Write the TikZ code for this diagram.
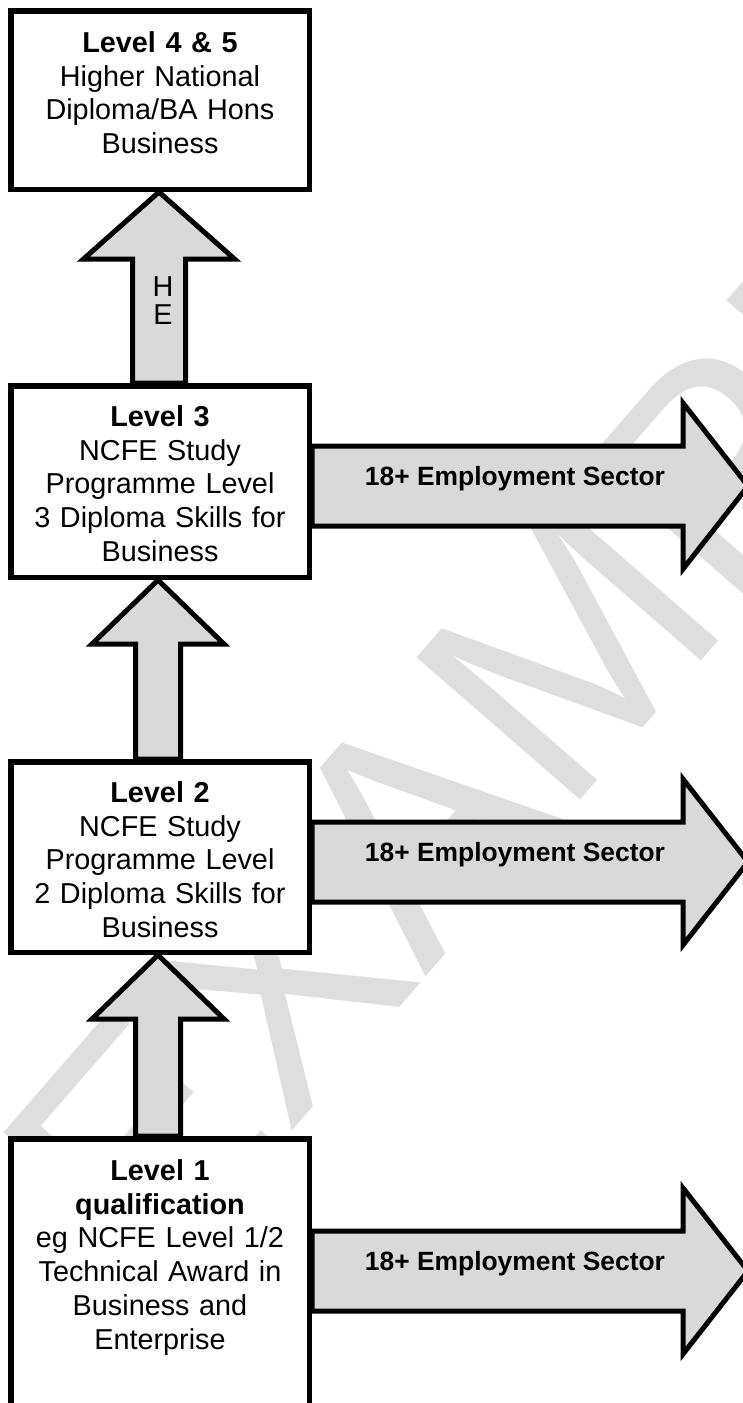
\documentclass[tikz,border=0pt]{standalone}
\usepackage{fontspec}
\setmainfont{Liberation Sans}
\usetikzlibrary{calc}
\pgfdeclarelayer{wm}
\pgfdeclarelayer{arrows}
\pgfsetlayers{wm,arrows,main}
\definecolor{arrowgrey}{HTML}{D9D9D9}
\definecolor{wmgrey}{HTML}{DEDEDE}
\newcommand{\boxfont}{\fontsize{28.8}{33.8}\selectfont}
\newcommand{\labfont}{\bfseries\fontsize{26.4}{30}\selectfont}

\begin{document}
\begin{tikzpicture}[x=1pt,y=-1pt,
  every node/.style={inner sep=0pt},
  levelbox/.style={draw,line width=5.5pt,fill=white,text width=290pt,align=center,
    minimum width=298.5pt,text height=21pt,font=\boxfont},
  uparrow/.style n args={3}{draw,line width=5pt,fill=arrowgrey,
    to path={($(\tikztostart)+(-#1,0)$) -- ($(\tikztotarget)+(-#1,#3)$)
      -- ($(\tikztotarget)+(-#2,#3)$) -- (\tikztotarget)
      -- ($(\tikztotarget)+(#2,#3)$) -- ($(\tikztotarget)+(#1,#3)$)
      -- ($(\tikztostart)+(#1,0)$) -- cycle}},
  sidearrow/.style={draw,line width=5pt,fill=arrowgrey,
    to path={($(\tikztostart)+(0,-40)$) -- ($(\tikztotarget)+(-65,-40)$)
      -- ($(\tikztotarget)+(-65,-83)$) -- (\tikztotarget)
      -- ($(\tikztotarget)+(-65,83)$) -- ($(\tikztotarget)+(-65,40)$)
      -- ($(\tikztostart)+(0,40)$) -- cycle}},
  sidelabel/.style={anchor=base,font=\labfont}
]
\useasboundingbox (0,0) rectangle (743,1403);
\clip (0,0) rectangle (743,1403);

% levels
\node[levelbox,minimum height=178.5pt,text depth=116.4pt] (l4) at (160,100)
  {\textbf{Level 4 \& 5}\\Higher National\\Diploma/BA Hons\\Business};
\node[levelbox,minimum height=191.5pt,text depth=131.4pt] (l3) at (160,481.5)
  {\textbf{Level 3}\\NCFE Study\\Programme Level\\3 Diploma Skills for\\Business};
\node[levelbox,minimum height=190.5pt,text depth=130.4pt] (l2) at (160,857)
  {\textbf{Level 2}\\NCFE Study\\Programme Level\\2 Diploma Skills for\\Business};
\node[levelbox,minimum height=400pt,text depth=337.9pt] (l1) at (160,1338.75)
  {\textbf{Level 1}\\\textbf{qualification}\\eg NCFE Level 1/2\\Technical Award in\\Business and\\Enterprise};

\coordinate (tip3) at (748,486);
\coordinate (tip2) at (748,862);
\coordinate (tip1) at (748,1271);

\node[sidelabel] (lab3) at ($(l3.east |- tip3)+(203,-1)$) {18+ Employment Sector};
\node[sidelabel] (lab2) at ($(l2.east |- tip2)+(203,-1)$) {18+ Employment Sector};
\node[sidelabel] (lab1) at ($(l1.east |- tip1)+(203,-1)$) {18+ Employment Sector};
\node[font=\fontsize{28.8}{28}\selectfont,align=center] (he) at (163,301) {H\\E};

\begin{pgfonlayer}{arrows}
\clip (0,0) rectangle (743,1403);
\draw[uparrow={26.5}{75.5}{67}] ([xshift=-1pt]l3.north) to ([xshift=-1pt]l4.south);
\draw[uparrow={22.5}{66}{64}] ([xshift=-2pt]l2.north) to ([xshift=-2pt]l3.south);
\draw[uparrow={22.5}{66}{64}] ([xshift=-2pt]l1.north) to ([xshift=-2pt]l2.south);
\draw[sidearrow] (l3.east |- tip3) to (tip3);
\draw[sidearrow] (l2.east |- tip2) to (tip2);
\draw[sidearrow] (l1.east |- tip1) to (tip1);
\end{pgfonlayer}

% watermark
\begin{pgfonlayer}{wm}
\fill[white] (0,0) rectangle (743,1403);
\clip (0,0) rectangle (743,1403);
\node[anchor=base west,rotate=49,text=wmgrey,font=\fontsize{315}{330}\selectfont]
  (wmark) at (150,1295) {EXAMPLE};
\end{pgfonlayer}
\end{tikzpicture}
\end{document}
